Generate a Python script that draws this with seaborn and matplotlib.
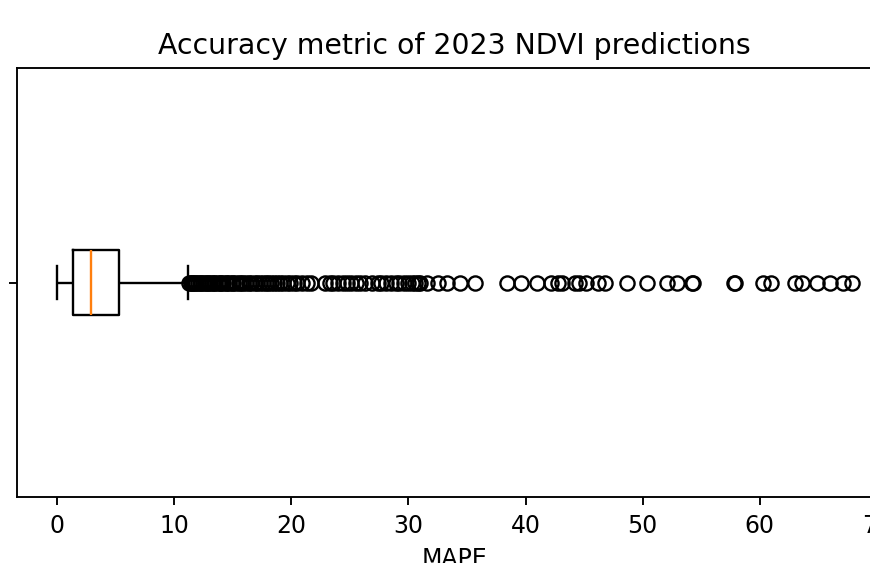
import numpy as np
import pandas as pd
import matplotlib
matplotlib.use("Agg")
import matplotlib.pyplot as plt
import seaborn as sns

# ---- data (MAPE of 2023 NDVI predictions) ----
# body of the distribution: representative values and how often they occur
body_values = [0.0, 0.6, 1.32, 2.0, 2.9, 4.0, 5.3]
body_counts = [1, 249, 1, 249, 1, 249, 1]
# upper-whisker region (values between Q3 and the whisker end)
upper_values = [8.0, 11.1]
# outliers
mape_outliers = [
    11.2, 11.3, 11.4, 11.5, 11.6, 11.8, 11.9, 12.0, 12.2, 12.3, 12.5, 12.6,
    12.8, 12.9, 13.1, 13.2, 13.4, 13.5, 13.7, 13.9, 14.0, 14.2, 14.4, 14.5,
    14.7, 14.9, 15.0, 15.3, 15.5, 15.7, 15.9, 16.1, 16.4, 16.6, 16.9, 17.1,
    17.3, 17.6, 17.8, 18.0, 18.3, 18.5, 18.8, 19.0, 19.3, 19.6, 19.9, 20.2,
    20.5, 20.9, 21.3, 21.7, 22.9, 23.3, 23.6, 24.0, 24.4, 24.8, 25.1, 25.5,
    25.9, 26.3, 26.9, 27.4, 27.7, 28.1, 28.5, 28.9, 29.2, 29.6, 30.0, 30.3,
    30.6, 30.8, 31.0, 31.6, 32.5, 33.3, 34.4, 35.7,
    38.4, 39.6, 41.0, 42.2, 42.8, 43.1, 44.2, 44.6, 45.2, 46.2, 46.8, 48.7,
    50.4, 52.1, 52.9, 54.2, 54.3, 57.8, 57.9, 60.3, 61.0, 63.0, 63.6, 64.9,
    66.0, 67.1, 67.9,
]
upper_counts = [249 - len(mape_outliers), 1]

mape = np.concatenate([
    np.repeat(body_values, body_counts),
    np.repeat(upper_values, upper_counts),
    np.array(mape_outliers),
])
df = pd.DataFrame({"MAPE": mape})

# ---- figure ----
DPI = 170
W, H = 871, 563
fig = plt.figure(figsize=(W / DPI, H / DPI), dpi=DPI)
ax = fig.add_axes([17.3 / W, (H - 497) / H, (892 - 17.3) / W, (497 - 68) / H])

sns.boxplot(
    data=df, x="MAPE", orient="h", ax=ax, width=0.15, whis=1.5,
    fill=False, color="black", linecolor="black", linewidth=1.0,
    medianprops={"color": "#ff7f0e", "linewidth": 1.0},
    flierprops={"marker": "o", "markersize": 6, "markerfacecolor": "none",
                "markeredgecolor": "black", "markeredgewidth": 1.0},
    capprops={"color": "black"}, whiskerprops={"color": "black"},
)
ax.set_ylim(0.5, -0.5)
ax.set_yticks([0])
ax.set_yticklabels([""])
ax.set_ylabel("")
ax.set_xlabel("MAPE")
ax.set_title("Accuracy metric of 2023 NDVI predictions")
for name, s in ax.spines.items():
    s.set_color("black")
ax.spines["right"].set_visible(False)

fig.savefig("out.png", dpi=DPI)
